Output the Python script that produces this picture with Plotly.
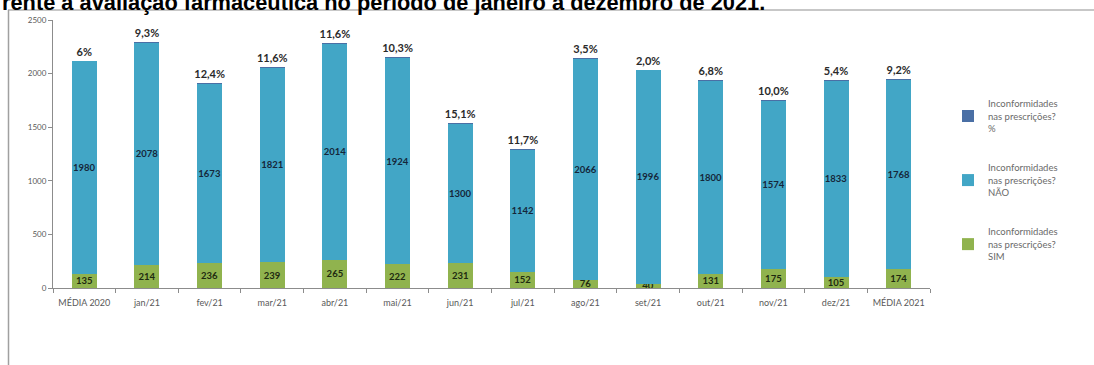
import plotly.graph_objects as go

# Categories (monthly values of 2021 plus the 2020 and 2021 averages)
categories = ["MÉDIA 2020", "jan/21", "fev/21", "mar/21", "abr/21", "mai/21", "jun/21",
              "jul/21", "ago/21", "set/21", "out/21", "nov/21", "dez/21", "MÉDIA 2021"]

# Prescriptions with nonconformities (SIM) and without (NÃO)
sim = [135, 214, 236, 239, 265, 222, 231, 152, 76, 40, 131, 175, 105, 174]
nao = [1980, 2078, 1673, 1821, 2014, 1924, 1300, 1142, 2066, 1996, 1800, 1574, 1833, 1768]

# Share of prescriptions with nonconformities
pct_text = ["6%", "9,3%", "12,4%", "11,6%", "11,6%", "10,3%", "15,1%",
            "11,7%", "3,5%", "2,0%", "6,8%", "10,0%", "5,4%", "9,2%"]
pct = [float(s.rstrip("%").replace(",", ".")) for s in pct_text]

y_ticks = [0, 500, 1000, 1500, 2000, 2500]

series_name = "Inconformidades<br>nas prescrições?<br>"

FONT = "Lato"
C_NAO = "#42a6c6"
C_SIM = "#90b34e"
C_PCT = "#4a6fa5"

fig = go.Figure()

fig.add_trace(go.Bar(
    x=categories, y=sim, name=series_name + "SIM",
    marker=dict(color=C_SIM, line=dict(width=0)),
    text=[str(v) for v in sim], textposition="inside", insidetextanchor="middle",
    textangle=0, constraintext="none",
    textfont=dict(family=FONT, size=9.5, color="#1e2a10", weight="bold"),
    legendgroup="sim", legendrank=3,
))
fig.add_trace(go.Bar(
    x=categories, y=nao, name=series_name + "NÃO",
    marker=dict(color=C_NAO, line=dict(width=0)),
    text=[str(v) for v in nao], textposition="inside", insidetextanchor="middle",
    textangle=0, constraintext="none",
    textfont=dict(family=FONT, size=9.5, color="#15263a", weight="bold"),
    legendgroup="nao", legendrank=2,
))
fig.add_trace(go.Bar(
    x=categories, y=[p / 100 for p in pct], name=series_name + "%",
    marker=dict(color=C_PCT, line=dict(width=0)),
    text=pct_text, textposition="outside", textangle=0, constraintext="none",
    cliponaxis=False,
    textfont=dict(family=FONT, size=11, color="#2a2a2a", weight="bold"),
    legendgroup="pct", legendrank=1,
))

# Plot area geometry in pixels, used for the frame and title placement
L, R, T, B = 53, 164, 20, 77
W, H = 1094, 365
pw, ph = W - L - R, H - T - B


def px_x(x):
    return (x - L) / pw


def px_y(y):
    return (H - B - y) / ph


fig.update_layout(
    width=W, height=H, autosize=False,
    margin=dict(l=L, r=R, t=T, b=B),
    barmode="stack", bargap=0.6,
    plot_bgcolor="white", paper_bgcolor="white",
    font=dict(family=FONT, size=9, color="#595959"),
    showlegend=True,
    legend=dict(
        x=px_x(948), y=px_y(91), xanchor="left", yanchor="top",
        font=dict(family=FONT, size=9.5, color="#6a6a6a"),
        tracegroupgap=24, bgcolor="rgba(0,0,0,0)",
    ),
    xaxis=dict(
        type="category", showgrid=False, showline=True, linecolor="#8c8c8c", linewidth=1,
        ticks="outside", tickson="boundaries", ticklen=4, tickcolor="#8c8c8c",
        ticklabelstandoff=6, tickangle=0,
        tickfont=dict(family=FONT, size=9, color="#595959"),
    ),
    yaxis=dict(
        range=[0, 2500], tickvals=y_ticks, showgrid=False, zeroline=False,
        showline=True, linecolor="#8c8c8c", linewidth=1,
        ticks="outside", ticklen=4, tickcolor="#8c8c8c",
        tickfont=dict(family=FONT, size=8, color="#595959"),
    ),
    shapes=[
        dict(type="line", xref="paper", yref="paper",
             x0=px_x(8), x1=px_x(1100), y0=px_y(10), y1=px_y(10),
             line=dict(color="#b4b4b4", width=1.5)),
        dict(type="line", xref="paper", yref="paper",
             x0=px_x(8.5), x1=px_x(8.5), y0=px_y(10), y1=px_y(370),
             line=dict(color="#a0a0a0", width=1.5)),
    ],
    annotations=[
        dict(text="<b>rente à avaliação farmacêutica no período de janeiro a dezembro de 2021.</b>",
             xref="paper", yref="paper", x=px_x(0), y=px_y(17),
             xanchor="left", yanchor="bottom", showarrow=False,
             font=dict(family="Liberation Sans", size=21.8, color="#000000")),
    ],
)

fig.write_html("out.html")
